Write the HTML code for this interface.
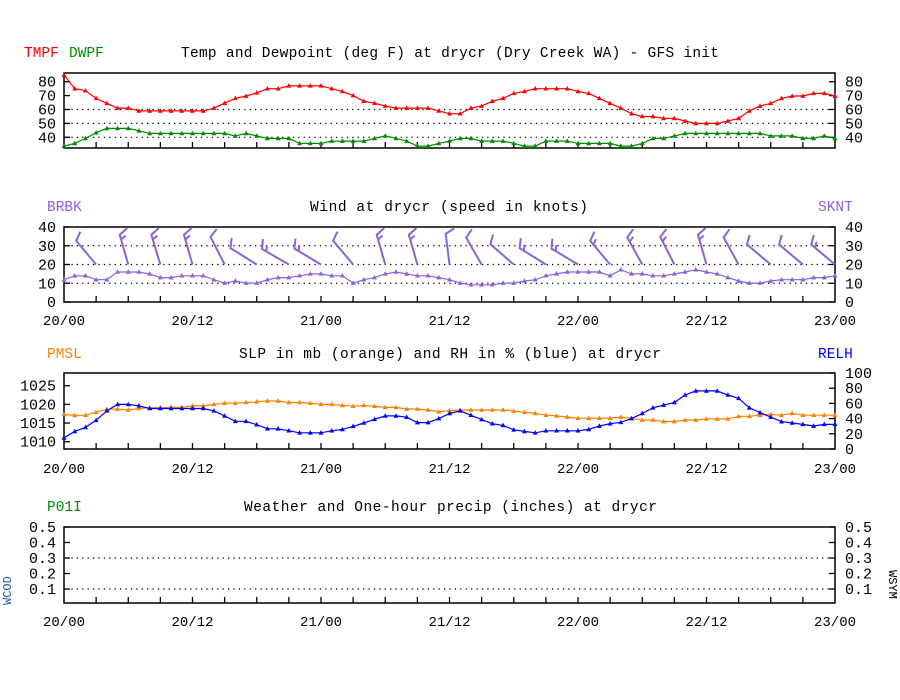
<!DOCTYPE html>
<html><head><meta charset="utf-8"><style>
html,body{margin:0;padding:0;background:#fff;}
svg{display:block;font-family:"Liberation Mono","DejaVu Sans Mono",monospace;}
</style></head><body>
<svg id="chart" width="900" height="700" viewBox="0 0 900 700" xmlns="http://www.w3.org/2000/svg">
<rect width="900" height="700" fill="#fff"/>
<g id="g"></g>
</svg>
<script>
// ---- data (hourly, 20/00 .. 23/00) ----
const xLabels = ["20/00","20/12","21/00","21/12","22/00","22/12","23/00"];
const tmpf = [84.8,75,73.5,68,64.4,61,61,59,59,59,59,59,59,59,61,64.5,68,69.7,72,75,75,77,77,77,77,75,73,70,66,64.5,62.5,61,61,61,61,59,57,
57,61,62.5,66,68,71.6,73,75,75,75,75,73,71.6,68,64.4,61,57,55,55,53.6,53.6,51.7,50,50,50,51.7,53.6,59,62.5,64.4,68,69.7,69.7,71.6,71.6,69.7];
const dwpf = [33.7,35.6,39.2,43.3,46.4,46.4,46.4,44.7,42.8,42.8,42.8,42.8,42.8,42.8,42.8,42.8,41,42.8,41,39.2,39.2,39.2,35.6,35.6,35.6,37.3,37.3,37.3,37.3,39.2,41,39.2,37.3,33.7,33.7,35.6,
37.3,39.2,39.2,37.3,37.3,37.3,35.6,33.7,33.7,37.3,37.3,37.3,35.6,35.6,35.6,35.6,33.7,33.7,35.6,39.2,39.2,41,42.8,42.8,42.8,42.8,42.8,42.8,42.8,42.8,41,41,41,39.2,39.2,41,39.2];
const sknt = [11.9,14,14,11.9,11.9,16,16,16,15,13,13,14,14,14,11.9,10.1,11.2,10.1,10.1,11.9,13,13,14,15,15,14,14,10.1,11.9,13,15,16,15,14,14,13,
11.9,10.1,9.2,9.2,9.2,10.1,10.1,11.2,11.9,14,15,16,16,16,16,14,17.2,15,15,14,14,15,16,17.2,16,15,13,11.2,10.1,10.1,11.2,11.9,11.9,11.9,13,13,14];
const barbHours = [3,6,9,12,15,18,21,24,27,30,33,36,39,42,45,48,51,54,57,60,63,66,69,72];
const barbDir = [320,344,343,344,333,302,300,301,320,344,344,353,330,311,302,301,320,331,333,344,331,310,310,310];
const pmsl = [1017.3,1017.05,1017.1,1017.9,1018.7,1018.75,1018.5,1018.9,1019.1,1019.1,1019.2,1019.2,1019.6,1019.6,1020,1020.3,1020.3,1020.5,1020.7,1020.9,1020.9,1020.5,1020.5,1020.3,1020,1020,1019.7,1019.5,1019.7,1019.5,1019.2,1019.2,1018.75,1018.75,1018.5,1018,
1018.3,1018.5,1018.5,1018.5,1018.5,1018.5,1018.2,1017.9,1017.6,1017.1,1016.9,1016.6,1016.3,1016.3,1016.3,1016.3,1016.6,1016.25,1015.8,1015.8,1015.4,1015.4,1015.8,1015.8,1016.1,1016.1,1016.1,1016.8,1016.8,1017.1,1017.3,1017.1,1017.6,1017.1,1017.1,1017.1,1017.1];
const relh = [14.7,23.1,28.4,37.8,50.2,58.7,58.7,56.9,53.3,53.3,53.3,53.3,53.3,53.3,50.2,43.5,36.4,36.4,32,26.6,26.6,24,21.3,21.3,21.3,24,25.8,29.8,34.2,39.1,43.5,43.5,41.8,34.7,34.7,40,
46.7,50.2,44.4,38.7,33.3,31.1,25.3,23.1,21.3,24,24,24,24,25.8,30.2,33.3,35.1,40,46.7,54.2,57.8,61.3,71.1,76.4,76.4,76.4,71.1,66.7,54.2,48,41.8,36,34.2,32.4,30.2,32.4,32.4];
const tTicks = [40,50,60,70,80];
const wTicks = [0,10,20,30,40];
const pTicks = [1010,1015,1020,1025];
const rTicks = [0,20,40,60,80,100];
const qTicks = [0.1,0.2,0.3,0.4,0.5];
</script>
<script>
const NS="http://www.w3.org/2000/svg";
const G=document.getElementById('g');
const X0=64,X1=835,HOURS=72;
function xh(h){return X0+(X1-X0)*h/HOURS;}
function lin(v0,y0,v1,y1){return v=>y0+(v-v0)*(y1-y0)/(v1-v0);}
function el(tag,attrs,parent){const e=document.createElementNS(NS,tag);for(const k in attrs)e.setAttribute(k,attrs[k]);(parent||G).appendChild(e);return e;}
function txt(s,x,y,opts,parent){const t=el('text',Object.assign({x:x,y:y,'font-size':14,fill:'#000'},opts||{}),parent);t.textContent=s;return t;}

const panels=[
 {name:'temp-panel',top:73,bot:148},
 {name:'wind-panel',top:227,bot:302},
 {name:'pressure-panel',top:373,bot:449},
 {name:'precip-panel',top:527,bot:603}
];
const yT=lin(40,137.3,80,81.7);
const yW=lin(0,302,40,227);
const yP=lin(1010,441.7,1025,385.7);
const yR=lin(0,449,100,373);
const yQ=lin(0.1,589,0.5,527);

function frame(p){
 const g=el('g',{});
 
 
 el('rect',{x:X0,y:p.top,width:X1-X0,height:p.bot-p.top,fill:'none',stroke:'#000','stroke-width':1.5},g);
 for(let h=3;h<HOURS;h+=3){const x=xh(h);el('line',{x1:x,y1:p.bot,x2:x,y2:p.bot-6,stroke:'#000','stroke-width':1.3},g);}
 return g;
}
function grid(g,y){el('line',{x1:X0+2,y1:y,x2:X1-2,y2:y,stroke:'#000','stroke-width':1.2,'stroke-dasharray':'1.3 4.1'},g);}
function ytick(g,y,side){if(side==='l')el('line',{x1:X0,y1:y,x2:X0+6,y2:y,stroke:'#000','stroke-width':1.3},g);else el('line',{x1:X1,y1:y,x2:X1-6,y2:y,stroke:'#000','stroke-width':1.3},g);}
function xlabels(g,y){xLabels.forEach((s,i)=>{const t=txt(s,xh(i*12),y,{'text-anchor':'middle'},g);});}
function series(arr,yf,color,name){
 const g=el('g',{});
 
 
 const pts=arr.map((v,i)=>xh(i).toFixed(1)+','+yf(v).toFixed(1)).join(' ');
 el('polyline',{points:pts,fill:'none',stroke:color,'stroke-width':1.2},g);
 arr.forEach((v,i)=>{const x=xh(i),y=yf(v);
  const m=el('path',{d:`M${x-2.5},${y+1.8}L${x},${y-2.7}L${x+2.5},${y+1.8}Z`,fill:color},g);
  
  });
}

// Panel 1
let g1=frame(panels[0]);
[40,50,60].forEach(v=>grid(g1,yT(v)));
tTicks.forEach(v=>{const y=yT(v);ytick(g1,y,'l');ytick(g1,y,'r');
 txt(String(v),56,y+5,{'text-anchor':'end','font-size':15},g1);txt(String(v),845,y+5,{'font-size':15},g1);});
series(tmpf,yT,'#ff0000','tmpf-line');
series(dwpf,yT,'#008c00','dwpf-line');
let t=txt('TMPF',24,57,{fill:'#ff0000','font-size':14.5});
t=txt('DWPF',69,57,{fill:'#008c00','font-size':14.5});
t=txt('Temp and Dewpoint (deg F) at drycr (Dry Creek WA) - GFS init',181,57,{'font-size':14.5,textLength:538});

// Panel 2
let g2=frame(panels[1]);
[10,20,30].forEach(v=>grid(g2,yW(v)));
wTicks.forEach(v=>{const y=yW(v);ytick(g2,y,'l');ytick(g2,y,'r');
 txt(String(v),56,y+5,{'text-anchor':'end','font-size':15},g2);txt(String(v),845,y+5,{'font-size':15},g2);});
xlabels(g2,325);
const PURP='#8a64d6';
const bg=el('g',{});


barbHours.forEach((h,i)=>{
 const d=barbDir[i]*Math.PI/180;const bx=xh(h),by=yW(20);
 const tx=bx+31*Math.sin(d),ty=by-31*Math.cos(d);
 const f=d+65*Math.PI/180;
 const s=Math.round(sknt[h]/5)*5;
 let path=`M${bx},${by}L${tx},${ty}L${tx+10*Math.sin(f)},${ty-10*Math.cos(f)}`;
 if(s>=15){const hx=bx+26*Math.sin(d),hy=by-26*Math.cos(d);path+=`M${hx},${hy}L${hx+6*Math.sin(f)},${hy-6*Math.cos(f)}`;}
 const b=el('path',{d:path,fill:'none',stroke:PURP,'stroke-width':2},bg);
 
 
});
series(sknt,yW,PURP,'sknt-line');
t=txt('BRBK',47,211,{fill:PURP,'font-size':14.5});
t=txt('SKNT',818,211,{fill:PURP,'font-size':14.5});
t=txt('Wind at  drycr (speed in knots)',310,211,{'font-size':14.5,textLength:278});

// Panel 3
let g3=frame(panels[2]);
pTicks.forEach(v=>{const y=yP(v);ytick(g3,y,'l');txt(String(v),56,y+5,{'text-anchor':'end','font-size':15},g3);});
rTicks.forEach(v=>{const y=yR(v);ytick(g3,y,'r');txt(String(v),845,y+5,{'font-size':15},g3);});
xlabels(g3,473);
series(pmsl,yP,'#ff8000','pmsl-line');
series(relh,yR,'#0000ff','relh-line');
t=txt('PMSL',47,358,{fill:'#ff8000','font-size':14.5});
t=txt('RELH',818,358,{fill:'#0000ff','font-size':14.5});
t=txt('SLP in mb (orange) and RH in % (blue) at  drycr',239,358,{'font-size':14.5,textLength:422});

// Panel 4
let g4=frame(panels[3]);
[0.1,0.3].forEach(v=>grid(g4,yQ(v)));
qTicks.forEach(v=>{const y=yQ(v);ytick(g4,y,'l');ytick(g4,y,'r');
 txt(v.toFixed(1),56,y+5,{'text-anchor':'end','font-size':15},g4);txt(v.toFixed(1),845,y+5,{'font-size':15},g4);});
xlabels(g4,626);
t=txt('P01I',47,511,{fill:'#008c00','font-size':14.5});
t=txt('Weather and One-hour precip (inches) at  drycr',244,511,{'font-size':14.5,textLength:413});
t=txt('WCOD',0,0,{fill:'#1a5fb0','font-size':12,transform:'translate(11,605) rotate(-90)'});
t=txt('WSYM',0,0,{fill:'#000','font-size':12,transform:'translate(889,570) rotate(90)'});
</script>
</body></html>
